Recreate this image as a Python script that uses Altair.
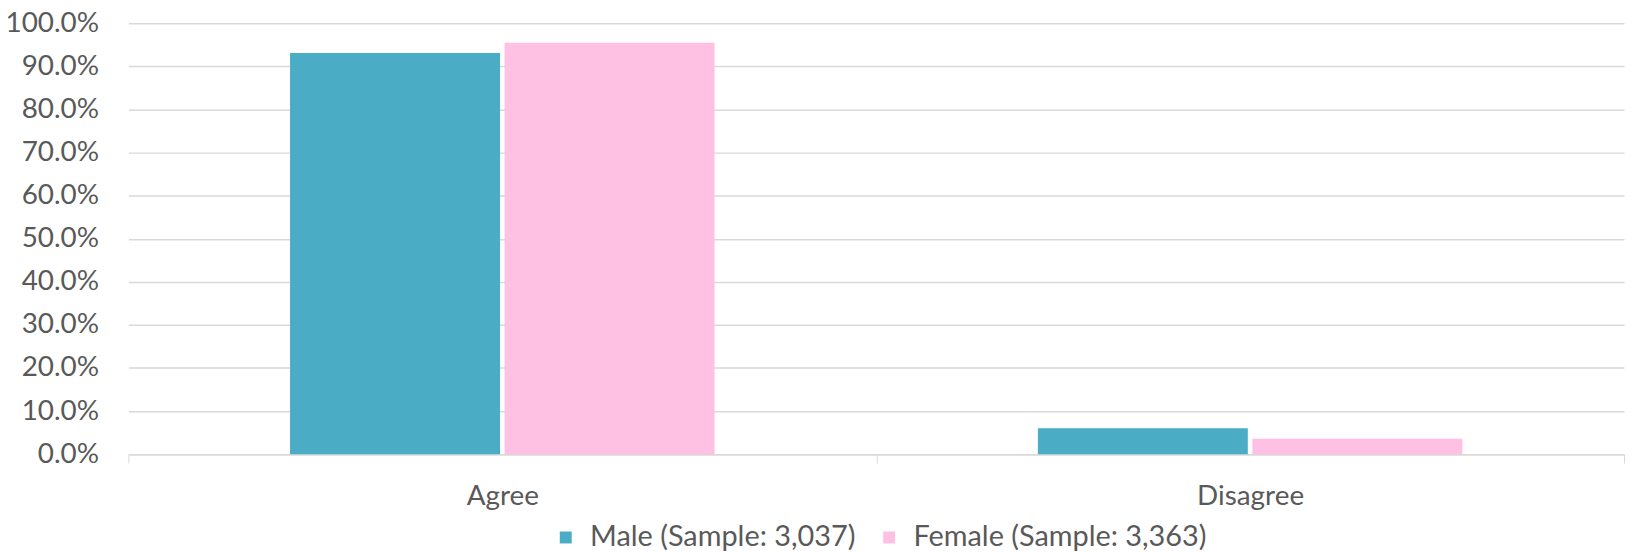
import altair as alt
import pandas as pd

categories = ["Agree", "Disagree"]
series = ["Male (Sample: 3,037)", "Female (Sample: 3,363)"]
male = [0.931, 0.060]
female = [0.955, 0.036]
y_ticks = [0.0, 0.1, 0.2, 0.3, 0.4, 0.5, 0.6, 0.7, 0.8, 0.9, 1.0]
colors = ["#4BACC6", "#FFC1E3"]

rows = []
for i, c in enumerate(categories):
    rows.append({"category": c, "series": series[0], "value": male[i]})
    rows.append({"category": c, "series": series[1], "value": female[i]})
df = pd.DataFrame(rows)

FONT = "Lato"
LABEL = "#595959"
GRID = "#D9D9D9"

chart = (
    alt.Chart(df)
    .mark_bar()
    .encode(
        x=alt.X(
            "category:N",
            sort=categories,
            title=None,
            scale=alt.Scale(paddingInner=0, paddingOuter=0),
            axis=alt.Axis(
                labelAngle=0,
                labelFont=FONT,
                labelFontSize=28,
                labelColor=LABEL,
                labelPadding=20,
                tickBand="extent",
                ticks=True,
                tickSize=9,
                tickColor=GRID,
                domainColor=GRID,
                domainWidth=1.5,
                grid=False,
            ),
        ),
        xOffset=alt.XOffset(
            "series:N", sort=series, scale=alt.Scale(paddingInner=0.0213, paddingOuter=0.7535)
        ),
        y=alt.Y(
            "value:Q",
            title=None,
            scale=alt.Scale(domain=[0, 1], nice=False),
            axis=alt.Axis(
                values=y_ticks,
                format=".1%",
                labelFont=FONT,
                labelFontSize=28,
                labelColor=LABEL,
                labelPadding=30,
                ticks=False,
                tickSize=0,
                domain=False,
                gridColor=GRID,
                gridWidth=1.5,
            ),
        ),
        color=alt.Color(
            "series:N",
            sort=series,
            scale=alt.Scale(domain=series, range=colors),
            legend=alt.Legend(
                title=None,
                orient="none",
                direction="horizontal",
                legendX=425,
                legendY=502,
                symbolType="square",
                symbolSize=144,
                symbolStrokeWidth=0,
                labelFont=FONT,
                labelFontSize=29,
                labelColor=LABEL,
                labelOffset=10,
                columnPadding=19,
                labelLimit=500,
            ),
        ),
    )
    .properties(
        width=1503,
        height=433,
        padding={"left": 121, "top": 14, "right": 1, "bottom": 97},
        autosize=alt.AutoSizeParams(type="none"),
    )
    .configure_view(stroke=None)
)

chart.save("out.html", embed_options={"renderer": "svg", "actions": False})
